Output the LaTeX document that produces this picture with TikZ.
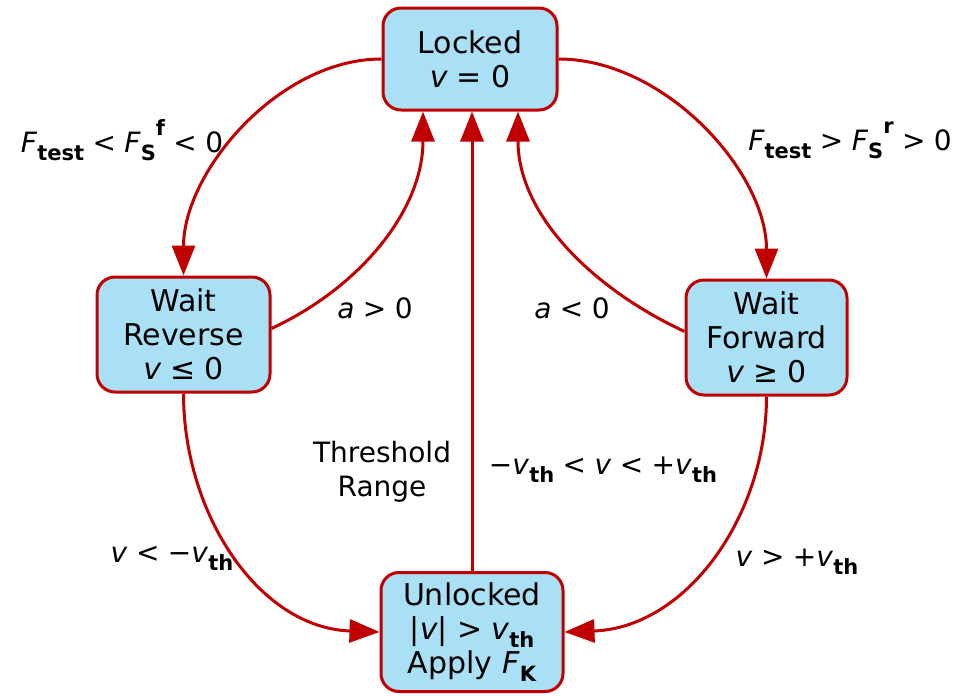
\documentclass[tikz,border=0pt]{standalone}
\usepackage{fontspec}
\setmainfont{DejaVu Sans}
\usetikzlibrary{arrows.meta,calc}
\definecolor{edgered}{RGB}{192,0,0}
\definecolor{boxblue}{RGB}{170,224,245}
\newcommand{\lo}[1]{\raisebox{-0.28em}{\fontsize{21}{21}\selectfont\bfseries #1}}
\newcommand{\hi}[1]{\raisebox{0.6em}{\fontsize{21}{21}\selectfont\bfseries #1}}
\newcommand{\vv}{\textit{v}}
\newcommand{\FF}{\textit{F}}
\newcommand{\rel}[1]{\hspace{0.3em}#1\hspace{0.3em}}
\begin{document}
\begin{tikzpicture}[x=1pt,y=-1pt,
  state/.style={draw=edgered, line width=3pt, fill=boxblue, rounded corners=18pt,
    align=center, font=\fontsize{30}{34}\selectfont, inner sep=0pt},
  conn/.style={draw=edgered, line width=3pt,
    -{Triangle[length=30pt,width=23pt,fill=edgered]}},
  lbl/.style={font=\fontsize{28}{34}\selectfont, align=center, inner sep=0pt}]
\useasboundingbox (0,0) rectangle (967,696);

\node[state, minimum width=174pt, minimum height=102pt] (locked) at (470,59) {Locked\\ \vv\rel{=}0};
\node[state, minimum width=173pt, minimum height=115pt] (waitr) at (183.5,334.5) {Wait\\Reverse\\ \vv\rel{≤}0};
\node[state, minimum width=161pt, minimum height=115pt] (waitf) at (766.5,337.5) {Wait\\Forward\\ \vv\rel{≥}0};
\node[state, minimum width=182pt, minimum height=119pt] (unlocked) at (472,632) {Unlocked\\ |\vv|\rel{>}\vv\lo{th}\\Apply \FF\lo{K}};

\draw[conn] (locked.west) to[out=180,in=90,looseness=0.9] (waitr.north);
\draw[conn] (locked.east) to[out=0,in=90,looseness=0.9] (waitf.north);
\draw[conn] ([yshift=6pt]waitr.east) to[out=25,in=-90,looseness=0.95] ([xshift=-47pt]locked.south);
\draw[conn] ([yshift=6pt]waitf.west) to[out=155,in=-90,looseness=0.95] ([xshift=48pt]locked.south);
\draw[conn] (unlocked.north) -- (unlocked.north |- locked.south);
\draw[conn] (waitr.south) to[out=-90,in=178] (unlocked.west);
\draw[conn] (waitf.south) to[out=-90,in=2] (unlocked.east);

\node[lbl] (l1) at (122,140) {\FF\lo{test}\rel{<}\FF\lo{S}\hi{f}\rel{<}0};
\node[lbl] (l2) at (850,140) {\FF\lo{test}\rel{>}\FF\lo{S}\hi{r}\rel{>}0};
\node[lbl] (l3) at (375,308) {\textit{a}\rel{>}0};
\node[lbl] (l4) at (572,308) {\textit{a}\rel{<}0};
\node[lbl] (l5) at (382,472) {Threshold\\Range};
\node[lbl] (l6) at (603,470) {−\vv\lo{th}\rel{<}\vv\rel{<}+\vv\lo{th}};
\node[lbl] (l7) at (172,558) {\vv\rel{<}−\vv\lo{th}};
\node[lbl] (l8) at (797,562) {\vv\rel{>}+\vv\lo{th}};
\end{tikzpicture}
\end{document}
